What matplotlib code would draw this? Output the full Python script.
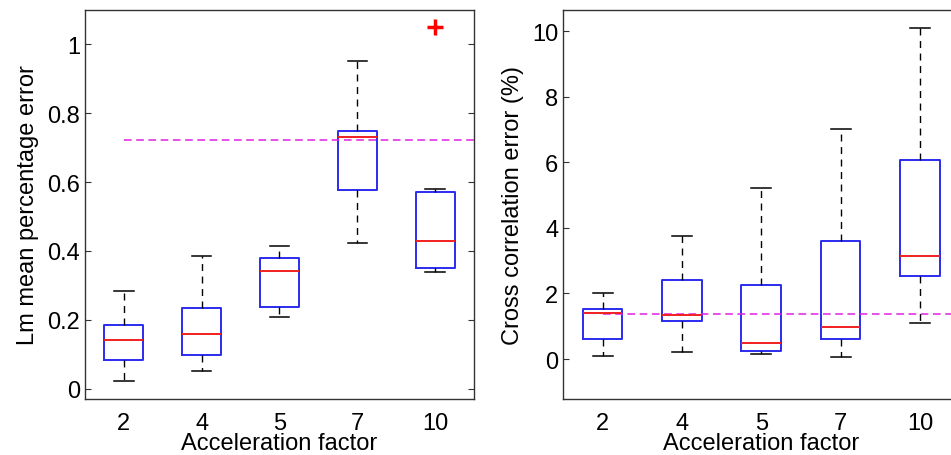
import numpy as np
import matplotlib
matplotlib.use("Agg")
import matplotlib.pyplot as plt

plt.rcParams['font.family'] = ['Liberation Sans', 'DejaVu Sans']

factors = ["2", "4", "5", "7", "10"]

# left panel: Lm mean percentage error
lm_whislo = [0.022, 0.051, 0.208, 0.422, 0.339]
lm_q1     = [0.083, 0.098, 0.236, 0.577, 0.351]
lm_med    = [0.142, 0.160, 0.343, 0.732, 0.430]
lm_q3     = [0.184, 0.233, 0.380, 0.750, 0.572]
lm_whishi = [0.283, 0.385, 0.415, 0.951, 0.581]
lm_fliers = [[], [], [], [], [1.050]]
lm_ref = 0.722

# right panel: cross correlation error (%)
cc_whislo = [0.10, 0.20, 0.16, 0.07, 1.10]
cc_q1     = [0.60, 1.15, 0.23, 0.60, 2.53]
cc_med    = [1.40, 1.35, 0.50, 0.99, 3.15]
cc_q3     = [1.535, 2.42, 2.25, 3.59, 6.06]
cc_whishi = [2.03, 3.74, 5.23, 7.03, 10.11]
cc_fliers = [[], [], [], [], []]
cc_ref = 1.373


def make_stats(lo, q1, med, q3, hi, fl):
    stats = []
    for i in range(len(lo)):
        stats.append({"whislo": lo[i], "q1": q1[i], "med": med[i],
                      "q3": q3[i], "whishi": hi[i], "fliers": fl[i]})
    return stats


def draw_panel(ax, stats, ref, ylim, yticks, ylabel):
    pos = np.arange(1, len(factors) + 1)
    ax.bxp(stats, positions=pos, widths=0.5, showfliers=True,
           boxprops=dict(color="#2b2bf0", linewidth=1.4),
           medianprops=dict(color="#f02020", linewidth=1.4),
           whiskerprops=dict(color="black", linewidth=1.0, linestyle=(0, (5, 4))),
           capprops=dict(color="black", linewidth=1.1),
           capwidths=0.25,
           flierprops=dict(marker="+", markeredgecolor="red", markersize=12,
                           markeredgewidth=2.5))
    ax.set_xlim(0.5, len(factors) + 0.5)
    ax.plot([pos[0], len(factors) + 0.5], [ref, ref], color="#e020e0",
            linestyle=(0, (5, 3)), linewidth=1.1)
    ax.set_ylim(*ylim)
    ax.set_yticks(yticks)
    ax.set_xticks(pos)
    ax.set_xticklabels(factors)
    ax.tick_params(axis="y", direction="in", length=4, right=True,
                   labelsize=17, color="#333333")
    ax.tick_params(axis="x", length=0, labelsize=17, pad=9)
    ax.set_xlabel("Acceleration factor", fontsize=17, labelpad=-1)
    ax.set_ylabel(ylabel, fontsize=17, labelpad=6)
    for s in ax.spines.values():
        s.set_color("#333333")
        s.set_linewidth(1.0)


fig = plt.figure(figsize=(9.51, 4.56), dpi=100)
ax1 = fig.add_axes([0.0894, 0.1228, 0.409, 0.853])
ax2 = fig.add_axes([0.592, 0.1228, 0.417, 0.853])

draw_panel(ax1, make_stats(lm_whislo, lm_q1, lm_med, lm_q3, lm_whishi, lm_fliers),
           lm_ref, (-0.03, 1.1), [0, 0.2, 0.4, 0.6, 0.8, 1],
           "Lm mean percentage error")
ax1.set_yticklabels(["0", "0.2", "0.4", "0.6", "0.8", "1"])

draw_panel(ax2, make_stats(cc_whislo, cc_q1, cc_med, cc_q3, cc_whishi, cc_fliers),
           cc_ref, (-1.22, 10.65), [0, 2, 4, 6, 8, 10],
           "Cross correlation error (%)")

fig.savefig("out.png", dpi=100)
